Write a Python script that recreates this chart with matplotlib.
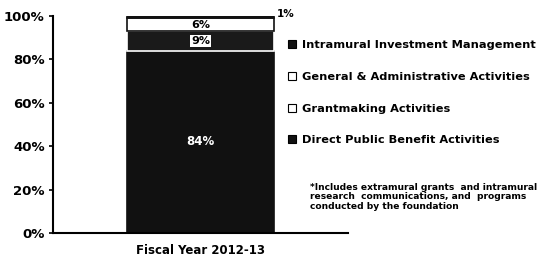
import matplotlib.pyplot as plt
from matplotlib.patches import Patch

plt.rcParams['font.family'] = ['DejaVu Sans']
plt.rcParams['font.weight'] = 'bold'

# segment values, bottom to top
categories = ["Direct Public Benefit Activities", "Grantmaking Activities",
              "General & Administrative Activities", "Intramural Investment Management"]
values = [84, 9, 6, 1]
labels = ["84%", "9%", "6%", "1%"]
year = "Fiscal Year 2012-13"
ticks = [0, 20, 40, 60, 80, 100]

faces = ["#111111", "#1a1a1a", "white", "#111111"]
edges = ["#111111", "white", "#111111", "#111111"]
legend_faces = ["#111111", "white", "white", "#111111"]

fig = plt.figure(figsize=(5.46, 2.61), dpi=100)
ax = fig.add_axes([0.097, 0.107, 0.54, 0.832])

bottom = 0
for i, (v, f, e, lab) in enumerate(zip(values, faces, edges, labels)):
    ax.bar(0, v, width=1.0, bottom=bottom, color=f, edgecolor=e, linewidth=1.2)
    if i == 0:
        ax.text(0, bottom + v / 2, lab, ha="center", va="center", fontsize=8.5, color="white")
    elif i == 1:
        ax.text(0, bottom + v / 2, lab, ha="center", va="center", fontsize=8,
                bbox=dict(facecolor="white", edgecolor="none", pad=0.8))
    elif i == 2:
        ax.text(0, bottom + v / 2, lab, ha="center", va="center", fontsize=8)
    else:
        ax.text(0.52, bottom + v + 0.8, lab, ha="left", va="center", fontsize=7.5)
    bottom += v

ax.set_xlim(-1, 1)
ax.set_ylim(0, 100)
ax.set_yticks(ticks)
ax.set_yticklabels(["{}%".format(t) for t in ticks], fontsize=9.5)
ax.set_xticks([0])
ax.set_xticklabels([year], fontsize=8.5)
ax.tick_params(axis="x", length=0, pad=8)
ax.tick_params(axis="y", length=3, width=1.2, direction="out", pad=3)
for s in ["top", "right"]:
    ax.spines[s].set_visible(False)
for s in ["left", "bottom"]:
    ax.spines[s].set_linewidth(1.5)

handles = [Patch(facecolor=f, edgecolor="black", linewidth=0.8) for f in legend_faces]
fig.legend(handles[::-1], categories[::-1], loc="upper left", bbox_to_anchor=(0.509, 0.885),
           frameon=False, fontsize=8.2, labelspacing=1.9, handlelength=0.7, handleheight=0.7,
           handletextpad=0.5)

fig.text(0.568, 0.30, "*Includes extramural grants  and intramural\nresearch  communications, and  programs\nconducted by the foundation",
         fontsize=6.6, va="top", ha="left", linespacing=1.1)

fig.savefig("out.png", dpi=100)
